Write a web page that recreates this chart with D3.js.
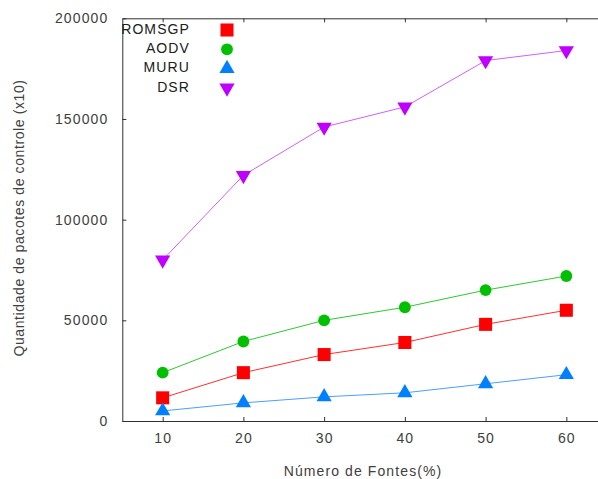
<!DOCTYPE html>
<html>
<head>
<meta charset="utf-8">
<script src="https://cdn.jsdelivr.net/npm/d3@7"></script>
<style>
  body { margin: 0; background: #fff; }
  text { font-family: "Liberation Sans", Arial, sans-serif; font-size: 14px; letter-spacing: 1.1px; fill: #404040; }
  .axis path, .axis line { stroke: #303030; }
</style>
</head>
<body>
<div id="chart"></div>
<script>
var fontes = [10, 20, 30, 40, 50, 60];
var romsgp = [11500, 24000, 33000, 39000, 48000, 55000];
var aodv = [24000, 39500, 50000, 56500, 65000, 72000];
var muru = [5000, 9000, 12000, 14000, 18500, 23000];
var dsr = [80000, 122000, 146000, 156000, 179000, 184000];
var yTicks = [0, 50000, 100000, 150000, 200000];

var series = [
    {name: "ROMSGP", values: romsgp, color: "#ff0000", line: "#ff3030", symbol: d3.symbolSquare, size: 170, rot: 0},
    {name: "AODV", values: aodv, color: "#00c000", line: "#30c830", symbol: d3.symbolCircle, size: 110, rot: 0},
    {name: "MURU", values: muru, color: "#0080ff", line: "#4aa0ff", symbol: d3.symbolTriangle, size: 100, rot: 0},
    {name: "DSR", values: dsr, color: "#c000ff", line: "#d060ff", symbol: d3.symbolTriangle, size: 100, rot: 180}
];

var svg = d3.select("#chart").append("svg")
    .attr("width", 598)
    .attr("height", 479);

var x = d3.scaleLinear().domain([5, 65]).range([122.3, 606.7]);
var y = d3.scaleLinear().domain([0, 200000]).range([421, 18.3]);

// frame: bottom, left, top (right side falls outside the picture)
svg.append("g")
    .attr("class", "axis")
    .attr("transform", "translate(0,421)")
    .call(d3.axisBottom(x).tickValues(fontes).tickSizeInner(-4).tickSizeOuter(0).tickPadding(12));

svg.append("g")
    .attr("class", "axis")
    .attr("transform", "translate(0,18.3)")
    .call(d3.axisTop(x).tickValues(fontes).tickSizeInner(-4).tickSizeOuter(0).tickFormat(""));

svg.append("g")
    .attr("class", "axis")
    .attr("transform", "translate(122.3,0)")
    .call(d3.axisLeft(y).tickValues(yTicks).tickFormat(d3.format("d")).tickSizeInner(-4).tickSizeOuter(0).tickPadding(14));

svg.selectAll(".axis text").attr("font-family", null).attr("font-size", null).attr("fill", null);
d3.selectAll(".axis").attr("font-family", null).attr("font-size", null);

svg.append("text")
    .attr("x", 363)
    .attr("y", 472)
    .attr("text-anchor", "middle")
    .attr("dominant-baseline", "middle")
    .text("Número de Fontes(%)");

svg.append("text")
    .attr("transform", "translate(20,218) rotate(-90)")
    .attr("text-anchor", "middle")
    .attr("dominant-baseline", "middle")
    .style("letter-spacing", "0.6px")
    .text("Quantidade de pacotes de controle (x10)");

var line = d3.line()
    .x(function(d, i) { return x(fontes[i]); })
    .y(function(d) { return y(d); });

series.forEach(function(s, k) {
    svg.append("path")
        .attr("d", line(s.values))
        .attr("fill", "none")
        .attr("stroke", s.line)
        .attr("stroke-width", 1);

    svg.selectAll(".pt" + k)
        .data(s.values)
        .enter().append("path")
        .attr("class", "pt" + k)
        .attr("d", d3.symbol().type(s.symbol).size(s.size))
        .attr("fill", s.color)
        .attr("transform", function(d, i) { return "translate(" + x(fontes[i]) + "," + y(d) + ") rotate(" + s.rot + ")"; });

    var ly = 30 + k * 19.3;
    svg.append("text")
        .attr("x", 190)
        .attr("y", ly)
        .attr("text-anchor", "end")
        .attr("dominant-baseline", "middle")
        .style("fill", "#202020")
        .text(s.name);
    svg.append("path")
        .attr("d", d3.symbol().type(s.symbol).size(s.size))
        .attr("fill", s.color)
        .attr("transform", "translate(227," + ly + ") rotate(" + s.rot + ")");
});
</script>
</body>
</html>
